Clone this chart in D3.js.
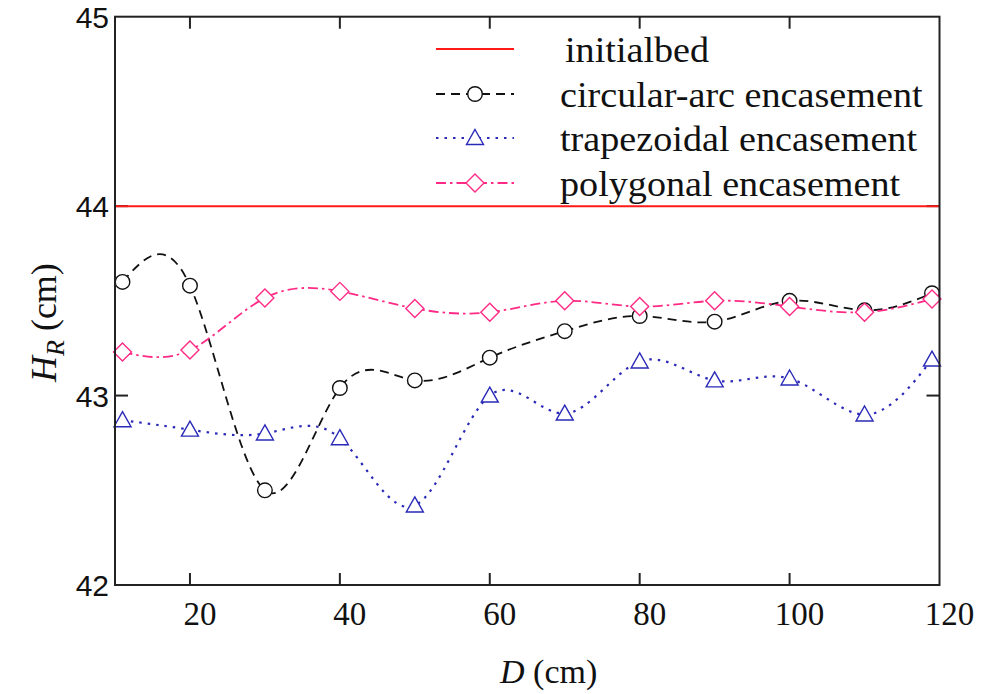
<!DOCTYPE html>
<html>
<head>
<meta charset="utf-8">
<script src="https://cdn.jsdelivr.net/npm/d3@7"></script>
<style>
  body { margin: 0; background: #fff; }
  svg { display: block; }
</style>
</head>
<body>
<div id="graph"></div>
<script>
// distance D (cm) of each measurement
var dist = [11, 20, 30, 40, 50, 60, 70, 80, 90, 100, 110, 119]

var circular = [43.60, 43.58, 42.50, 43.04, 43.08, 43.20, 43.34, 43.42, 43.39, 43.50, 43.45, 43.54]
var trapezoidal = [42.87, 42.82, 42.80, 42.775, 42.42, 43.00, 42.905, 43.18, 43.08, 43.09, 42.90, 43.19]
var polygonal = [43.23, 43.24, 43.515, 43.55, 43.46, 43.44, 43.50, 43.47, 43.50, 43.47, 43.44, 43.51]
var initialBed = 44

var xTicks = [20, 40, 60, 80, 100, 120]
var yTicks = [42, 43, 44, 45]

var legendNames = ['initialbed', 'circular-arc encasement', 'trapezoidal encasement', 'polygonal encasement']

var W = 995, H = 694
var margin = {left: 115, right: 55.5, top: 16.7, bottom: 109}
var width = W - margin.left - margin.right
var height = H - margin.top - margin.bottom

var svg = d3.select('#graph').append('svg')
  .attr('width', W).attr('height', H)
var g = svg.append('g').attr('transform', `translate(${margin.left},${margin.top})`)

var x = d3.scaleLinear().domain([10, 120]).range([0, width])
var y = d3.scaleLinear().domain([42, 45]).range([height, 0])

var serif = '"Liberation Serif", "Times New Roman", serif'
var sans = '"Liberation Sans", Arial, sans-serif'

var red = '#ff1a1a'
var black = '#111'
var blue = '#2a2ab8'
var pink = '#ff2a85'

// inside ticks, bottom and top
var tickLen = 12
xTicks.filter(d => d < 120).forEach(d => {
  g.append('line').attr('x1', x(d)).attr('x2', x(d)).attr('y1', height).attr('y2', height - tickLen)
    .attr('stroke', '#222').attr('stroke-width', 2)
  g.append('line').attr('x1', x(d)).attr('x2', x(d)).attr('y1', 0).attr('y2', tickLen)
    .attr('stroke', '#222').attr('stroke-width', 2)
})
yTicks.filter(d => d > 42 && d < 45).forEach(d => {
  g.append('line').attr('x1', 0).attr('x2', 13).attr('y1', y(d)).attr('y2', y(d))
    .attr('stroke', '#222').attr('stroke-width', 2)
  g.append('line').attr('x1', width).attr('x2', width - 13).attr('y1', y(d)).attr('y2', y(d))
    .attr('stroke', '#222').attr('stroke-width', 2)
})

// tick labels
g.selectAll('text.xt').data(xTicks).join('text')
  .attr('x', d => x(d) + 10).attr('y', height + 40)
  .attr('text-anchor', 'middle')
  .style('font-family', serif).style('font-size', '33px').attr('fill', '#111')
  .text(d => d)

g.selectAll('text.yt').data(yTicks).join('text')
  .attr('x', -6).attr('y', d => y(d) + 11)
  .attr('text-anchor', 'end')
  .style('font-family', sans).style('font-size', '30px').attr('fill', '#111')
  .text(d => d)

// axis titles
var xt = svg.append('text')
  .attr('x', 500).attr('y', 683)
  .style('font-family', serif).style('font-size', '34px').attr('fill', '#111')
xt.append('tspan').style('font-style', 'italic').text('D')
xt.append('tspan').text(' (cm)')

var yt = svg.append('text')
  .attr('transform', 'translate(56,382) rotate(-90)')
  .style('font-family', serif).style('font-size', '36px').attr('fill', '#111')
yt.append('tspan').style('font-style', 'italic').text('H')
yt.append('tspan').style('font-style', 'italic').style('font-size', '26px').attr('dy', 8).text('R')
yt.append('tspan').attr('dy', -8).text(' (cm)')

// initial bed
g.append('line')
  .attr('x1', 0).attr('x2', width).attr('y1', y(initialBed)).attr('y2', y(initialBed))
  .attr('stroke', red).attr('stroke-width', 2)

var line = d3.line()
  .x(d => x(d[0]))
  .y(d => y(d[1]))
  .curve(d3.curveNatural)

var series = [
  {vals: circular, color: black, dash: '9,6', width: 1.8, shape: 'circle'},
  {vals: trapezoidal, color: blue, dash: '2.5,6', width: 2.2, shape: 'triangle'},
  {vals: polygonal, color: pink, dash: '10,4,2.5,4', width: 1.8, shape: 'diamond'},
]

var symbols = {
  circle: d3.symbol().type(d3.symbolCircle).size(Math.PI * 7.3 * 7.3),
  triangle: () => 'M0,-8.5L8.5,6.5L-8.5,6.5Z',
  diamond: () => 'M0,-9L9,0L0,9L-9,0Z',
}

series.forEach(s => {
  var pts = dist.map((d, i) => [d, s.vals[i]])
  g.append('path')
    .attr('d', line(pts))
    .attr('fill', 'none').attr('stroke', s.color)
    .attr('stroke-width', s.width).attr('stroke-dasharray', s.dash)
})
series.forEach(s => {
  var pts = dist.map((d, i) => [d, s.vals[i]])
  g.selectAll(null).data(pts).join('path')
    .attr('d', symbols[s.shape]())
    .attr('transform', d => `translate(${x(d[0])},${y(d[1])})`)
    .attr('fill', '#fff').attr('stroke', s.color).attr('stroke-width', 1.4)
})

// frame
g.append('rect').attr('width', width).attr('height', height)
  .attr('fill', 'none').attr('stroke', '#222').attr('stroke-width', 2)

// legend
var legendY = [49, 94, 138, 183]
var lg = svg.append('g')
legendNames.forEach((name, i) => {
  var ly = legendY[i]
  var s = series[i - 1]
  lg.append('line').attr('x1', 436).attr('x2', 514).attr('y1', ly).attr('y2', ly)
    .attr('stroke', s ? s.color : red).attr('stroke-width', s ? s.width : 2)
    .attr('stroke-dasharray', s ? s.dash : null)
  if (s) {
    lg.append('path').attr('d', symbols[s.shape]())
      .attr('transform', `translate(475,${ly})`)
      .attr('fill', '#fff').attr('stroke', s.color).attr('stroke-width', 1.4)
  }
  var t = lg.append('text')
    .attr('x', i == 0 ? 565 : 560).attr('y', ly + 13)
    .style('font-family', serif).style('font-size', '36px').attr('fill', '#111')
    .text(name)
  // the reference type runs a little wider than Liberation Serif
  var w = t.node().getComputedTextLength()
  t.attr('textLength', w * 1.06).attr('lengthAdjust', 'spacingAndGlyphs')
})
</script>
</body>
</html>
